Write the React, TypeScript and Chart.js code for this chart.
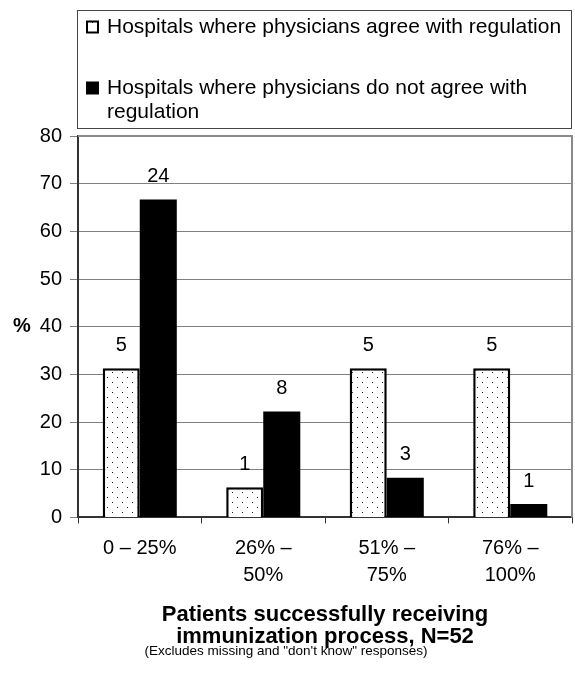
import React, { useEffect, useRef } from "react";
import { Chart, registerables } from "chart.js";

Chart.register(...registerables);

const FONT = '"Liberation Sans", Arial, Helvetica, sans-serif';

const categories: (string | string[])[] = ["0 – 25%", ["26% –", "50%"], ["51% –", "75%"], ["76% –", "100%"]];
const agreePct = [31.3, 6.3, 31.3, 31.3];
const disagreePct = [66.7, 22.2, 8.3, 2.8];
const agreeCounts = [5, 1, 5, 5];
const disagreeCounts = [24, 8, 3, 1];
const seriesNames: string[][] = [
  ["Hospitals where physicians agree with regulation"],
  ["Hospitals where physicians do not agree with", "regulation"],
];
const yMin = 0;
const yMax = 80;
const yStep = 10;
const yAxisLabel = "%";
const xTitle = ["Patients successfully receiving", "immunization process, N=52"];
const xSubtitle = '(Excludes missing and "don\'t know" responses)';

function makeDots(): CanvasPattern | string {
  const c = document.createElement("canvas");
  c.width = 10;
  c.height = 10;
  const g = c.getContext("2d");
  if (!g) return "#fff";
  g.fillStyle = "#ffffff";
  g.fillRect(0, 0, 10, 10);
  g.fillStyle = "#111111";
  g.fillRect(2, 2, 1, 1);
  g.fillRect(7, 7, 1, 1);
  return g.createPattern(c, "repeat") || "#fff";
}

export default function App() {
  const ref = useRef<HTMLCanvasElement | null>(null);

  useEffect(() => {
    if (!ref.current) return;
    const dots = makeDots();
    const counts = [agreeCounts, disagreeCounts];

    const frame = {
      id: "frame",
      beforeDatasetsDraw(chart: any) {
        const { ctx, chartArea } = chart;
        ctx.save();
        ctx.strokeStyle = "#8a8a8a";
        ctx.lineWidth = 2;
        ctx.beginPath();
        ctx.moveTo(chartArea.left, chartArea.top);
        ctx.lineTo(chartArea.right, chartArea.top);
        ctx.lineTo(chartArea.right, chartArea.bottom);
        ctx.stroke();
        ctx.restore();
      },
    };

    const labels = {
      id: "valueLabels",
      afterDatasetsDraw(chart: any) {
        const { ctx } = chart;
        ctx.save();
        ctx.font = `20px ${FONT}`;
        ctx.fillStyle = "#000";
        ctx.textAlign = "center";
        ctx.textBaseline = "middle";
        chart.data.datasets.forEach((_d: any, di: number) => {
          const meta = chart.getDatasetMeta(di);
          meta.data.forEach((el: any, i: number) => {
            ctx.fillText(String(counts[di][i]), el.x, el.y - 23);
          });
        });
        ctx.restore();
      },
    };

    const legendBox = {
      id: "legendBox",
      afterDraw(chart: any) {
        const { ctx, chartArea, scales } = chart;
        ctx.save();
        const left = chartArea.left - 1;
        const right = chartArea.right - 1;
        const top = 10;
        const bottom = chartArea.top - 8;
        ctx.strokeStyle = "#444";
        ctx.lineWidth = 1;
        ctx.strokeRect(left + 0.5, top + 0.5, right - left, bottom - top);

        ctx.font = `21px ${FONT}`;
        ctx.fillStyle = "#000";
        ctx.textAlign = "left";
        ctx.textBaseline = "middle";
        const itemY = [top + 17, top + 78];
        const lineH = 24;
        seriesNames.forEach((lines, i) => {
          const y0 = itemY[i];
          const sx = left + 10;
          if (i === 0) {
            ctx.fillStyle = dots as any;
            ctx.fillRect(sx, y0 - 5.5, 11, 11);
            ctx.strokeStyle = "#000";
            ctx.lineWidth = 2;
            ctx.strokeRect(sx, y0 - 5.5, 11, 11);
          } else {
            ctx.fillStyle = "#000";
            ctx.fillRect(sx - 1, y0 - 6.5, 13, 13);
          }
          ctx.fillStyle = "#000";
          lines.forEach((t, li) => {
            ctx.fillText(t, left + 30, y0 + li * lineH);
          });
        });

        const ys = scales.y;
        ctx.font = `bold 20px ${FONT}`;
        ctx.textAlign = "center";
        ctx.fillText(yAxisLabel, chartArea.left - 56, ys.getPixelForValue(40));
        ctx.restore();
      },
    };

    const chart = new Chart(ref.current, {
      type: "bar",
      data: {
        labels: categories as any,
        datasets: [
          {
            label: seriesNames[0].join(" "),
            data: agreePct,
            backgroundColor: dots as any,
            borderColor: "#000",
            borderWidth: 2.5,
            categoryPercentage: 0.6,
            barPercentage: 1.0,
          },
          {
            label: seriesNames[1].join(" "),
            data: disagreePct,
            backgroundColor: "#000",
            borderColor: "#000",
            borderWidth: 0,
            categoryPercentage: 0.6,
            barPercentage: 1.0,
          },
        ],
      },
      options: {
        animation: false,
        responsive: false,
        layout: { padding: { top: 136, right: 3, left: 0, bottom: 0 } },
        font: { family: FONT },
        plugins: {
          legend: { display: false },
          tooltip: { enabled: false },
          subtitle: {
            display: true,
            position: "bottom",
            text: xSubtitle,
            color: "#000",
            font: { family: FONT, size: 13.5, weight: "normal", lineHeight: 1.2 },
            padding: { top: -5, bottom: 19 },
          },
        },
        scales: {
          x: {
            grid: { drawOnChartArea: false, drawTicks: true, tickLength: 6, color: "#333", lineWidth: 1 },
            border: { color: "#333", width: 2 },
            ticks: {
              color: "#000",
              font: { family: FONT, size: 20, lineHeight: 1.35 },
              padding: 12,
              maxRotation: 0,
              autoSkip: false,
            },
            title: {
              display: true,
              text: xTitle,
              color: "#000",
              font: { family: FONT, size: 22, weight: "bold", lineHeight: 1.0 },
              padding: { top: 2.4, bottom: 0 },
            },
          },
          y: {
            min: yMin,
            max: yMax,
            ticks: { stepSize: yStep, color: "#000", font: { family: FONT, size: 20 }, padding: 8 },
            grid: { color: "#808080", lineWidth: 1, tickLength: 8 },
            border: { color: "#333", width: 2 },
            afterFit: (s: any) => {
              s.width = 78;
            },
          },
        },
      } as any,
      plugins: [frame, labels, legendBox],
    });

    return () => chart.destroy();
  }, []);

  return (
    <div style={{ position: "absolute", left: 0, top: 0, width: 575, height: 678, background: "#fff" }}>
      <canvas ref={ref} width={575} height={678} style={{ display: "block" }} />
    </div>
  );
}
